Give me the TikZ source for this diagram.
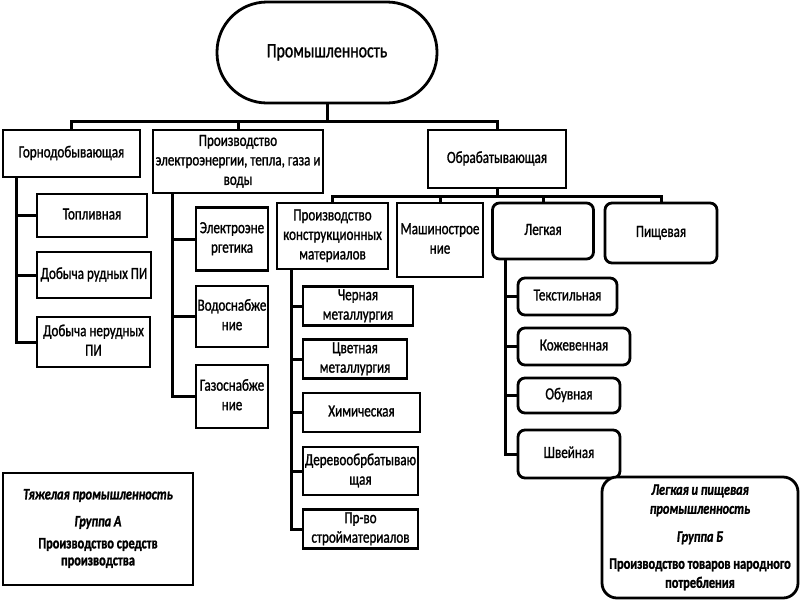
\documentclass[tikz,border=0pt]{standalone}
\usepackage{fontspec}
\setmainfont[FakeStretch=0.77, FakeBold=1.2]{Carlito}
\newcommand\tx[1]{\makebox[0pt]{\begin{tabular}{@{}c@{}}#1\end{tabular}}}
\tikzset{
  box/.style={draw, line width=2.8pt, inner sep=0pt, anchor=center, fill=white,
    font=\fontsize{17}{19.5}\selectfont},
  sq/.style={box},
  rnd/.style={box, rounded corners=7pt},
  conn/.style={line width=3pt},
  dim/.style 2 args={minimum width=#1pt, minimum height=#2pt},
}
\begin{document}
\begin{tikzpicture}[x=1pt, y=-1pt]
\useasboundingbox (0,0) rectangle (800,600);

% level 0
\node[box, rounded corners=50pt, dim={220}{101}, font=\fontsize{20.5}{24}\selectfont] (prom) at (327,52.5) {\tx{Промышленность}};

% level 1
\node[sq, dim={137}{47}] (gorn) at (71.5,153.5) {\tx{Горнодобывающая}};
\node[sq, dim={170}{63}] (elec) at (238,161.5) {\tx{Производство\\электроэнергии, тепла, газа и\\воды}};
\node[sq, dim={138}{58}] (obr) at (497,159) {\tx{Обрабатывающая}};

% mining
\node[sq, dim={110}{43}] (topl) at (92,215.5) {\tx{Топливная}};
\node[sq, dim={114}{46}] (rud) at (94,275) {\tx{Добыча рудных ПИ}};
\node[sq, dim={113}{50}] (nerud) at (93.5,342) {\tx{Добыча нерудных\\ПИ}};

% energy
\node[sq, dim={72}{63}] (elen) at (232,239) {\tx{Электроэне\\ргетика}};
\node[sq, dim={72}{61}] (vodo) at (232,316.5) {\tx{Водоснабже\\ние}};
\node[sq, dim={72}{63}] (gazo) at (232,396.5) {\tx{Газоснабже\\ние}};

% processing
\node[sq, dim={111}{66}] (konstr) at (332.5,236) {\tx{Производство\\конструкционных\\материалов}};
\node[sq, dim={86}{74}] (mash) at (440,240) {\tx{Машинострое\\ние}};
\node[rnd, dim={101}{56}] (legk) at (543,231) {\tx{Легкая}};
\node[rnd, dim={112}{60}] (pisch) at (661,233) {\tx{Пищевая}};

% construction materials
\node[sq, dim={110}{38}] (cher) at (358,306) {\tx{Черная\\металлургия}};
\node[sq, dim={104}{38}] (cvet) at (355,359) {\tx{Цветная\\металлургия}};
\node[sq, dim={117}{39}] (him) at (361.5,412.5) {\tx{Химическая}};
\node[sq, dim={115}{48}] (derev) at (360.5,471) {\tx{Деревообрбатываю\\щая}};
\node[sq, dim={115}{38}] (stroy) at (360.5,529) {\tx{Пр-во\\стройматериалов}};

% light industry
\node[rnd, dim={99}{37}] (tekst) at (567.5,296.5) {\tx{Текстильная}};
\node[rnd, dim={112}{37}] (kozh) at (574,346.5) {\tx{Кожевенная}};
\node[rnd, dim={102}{35}] (obuv) at (569,395.5) {\tx{Обувная}};
\node[rnd, dim={102}{48}] (shv) at (569,454) {\tx{Швейная}};

% groups
\node[sq, dim={190}{112}, font=\fontsize{16}{17}\selectfont\bfseries] (grA) at (98,529)
  {\tx{\textit{Тяжелая промышленность}\\[10pt]\textit{Группа А}\\[5pt]Производство средств\\производства}};
\node[box, rounded corners=15pt, dim={196}{121}, font=\fontsize{16}{19}\selectfont\bfseries] (grB) at (700,537.5)
  {\tx{\textit{Легкая и пищевая}\\\textit{промышленность}\\[9pt]\textit{Группа Б}\\[8pt]Производство товаров народного\\потребления}};

% connectors level 0-1
\coordinate (b1) at (0,121);
\draw[conn] (prom.south) -- (prom.south |- b1);
\draw[conn] (gorn.north) -- (gorn.north |- b1) -| (obr.north);
\draw[conn] (elec.north) -- (elec.north |- b1);

% connectors processing
\coordinate (b2) at (0,196);
\draw[conn] (obr.south) -- (obr.south |- b2);
\draw[conn] (konstr.north) -- (konstr.north |- b2) -| (pisch.north);
\draw[conn] (mash.north) -- (mash.north |- b2);
\draw[conn] (legk.north) -- (legk.north |- b2);

% mining branches
\coordinate (g0) at (16,0);
\draw[conn] (g0 |- gorn.south) |- (nerud.west);
\draw[conn] (g0 |- topl.west) -- (topl.west);
\draw[conn] (g0 |- rud.west) -- (rud.west);

% energy branches
\coordinate (e0) at (172,0);
\draw[conn] (e0 |- elec.south) |- (gazo.west);
\draw[conn] (e0 |- elen.west) -- (elen.west);
\draw[conn] (e0 |- vodo.west) -- (vodo.west);

% construction branches
\coordinate (k0) at (291,0);
\draw[conn] (k0 |- konstr.south) |- (stroy.west);
\draw[conn] (k0 |- cher.west) -- (cher.west);
\draw[conn] (k0 |- cvet.west) -- (cvet.west);
\draw[conn] (k0 |- him.west) -- (him.west);
\draw[conn] (k0 |- derev.west) -- (derev.west);

% light branches
\coordinate (l0) at (505,0);
\draw[conn] (l0 |- legk.south) |- (shv.west);
\draw[conn] (l0 |- tekst.west) -- (tekst.west);
\draw[conn] (l0 |- kozh.west) -- (kozh.west);
\draw[conn] (l0 |- obuv.west) -- (obuv.west);
\end{tikzpicture}
\end{document}
